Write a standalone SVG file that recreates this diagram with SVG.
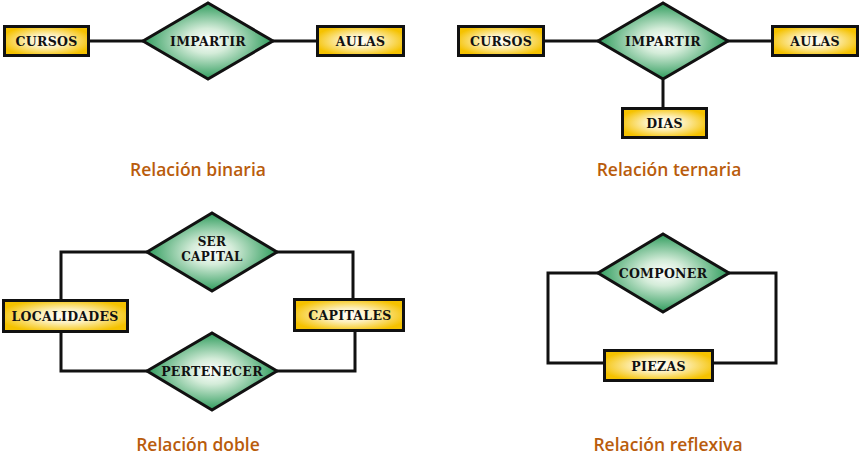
<svg xmlns="http://www.w3.org/2000/svg" width="859" height="457" viewBox="0 0 859 457">
<defs>
<radialGradient id="gBox" cx="50%" cy="50%" r="55%">
<stop offset="0" stop-color="#ffffff"/>
<stop offset="0.4" stop-color="#fdf0bd"/>
<stop offset="1" stop-color="#f5c200"/>
</radialGradient>
<radialGradient id="gDia" cx="50%" cy="50%" r="55%">
<stop offset="0" stop-color="#ffffff"/>
<stop offset="0.3" stop-color="#d4ecd9"/>
<stop offset="1" stop-color="#16904a"/>
</radialGradient>
<style>
.box{fill:url(#gBox);stroke:#111;stroke-width:3}
.dia{fill:url(#gDia);stroke:#111;stroke-width:3;stroke-linejoin:miter}
.lbl{font-family:"DejaVu Serif",serif;font-weight:bold;font-size:12.5px;fill:#111;text-anchor:middle;letter-spacing:0.3px}
.sm{font-size:12px}
.cap{font-family:"Open Sans","Noto Sans",sans-serif;font-weight:600;font-size:17.5px;fill:#b95c0c;text-anchor:middle}
.ln{fill:none;stroke:#111;stroke-width:3}
</style>
</defs>
<g id="connectors">
<line class="ln" x1="90" y1="41" x2="143" y2="41"/>
<line class="ln" x1="273" y1="41" x2="316" y2="41"/>
<line class="ln" x1="545" y1="41" x2="598" y2="41"/>
<line class="ln" x1="728" y1="41" x2="771" y2="41"/>
<line class="ln" x1="663" y1="80" x2="663" y2="107"/>
<polyline class="ln" points="147,252 61,252 61,299"/>
<polyline class="ln" points="277,252 353,252 353,298"/>
<polyline class="ln" points="147,371 61,371 61,333"/>
<polyline class="ln" points="277,371 355,371 355,332"/>
<polyline class="ln" points="598,273 548,273 548,363 603,363"/>
<polyline class="ln" points="729,273 776,273 776,363 714,363"/>
</g>
<g id="b-cursos"><rect class="box" x="4.5" y="26.5" width="84" height="29"/><text class="lbl" x="46.5" y="45.5">CURSOS</text></g>
<g id="b-impartir"><polygon class="dia" points="143,41 208,3 273,41 208,79"/><text class="lbl" x="208" y="45.5">IMPARTIR</text></g>
<g id="b-aulas"><rect class="box" x="317.5" y="26.5" width="86" height="29"/><text class="lbl" x="360.5" y="45.5">AULAS</text></g>
<g id="t-cursos"><rect class="box" x="458.5" y="26.5" width="85" height="29"/><text class="lbl" x="501" y="45.5">CURSOS</text></g>
<g id="t-impartir"><polygon class="dia" points="598,41 663,3 728,41 663,79"/><text class="lbl" x="663" y="45.5">IMPARTIR</text></g>
<g id="t-aulas"><rect class="box" x="772.5" y="26.5" width="85" height="29"/><text class="lbl" x="815" y="45.5">AULAS</text></g>
<g id="t-dias"><rect class="box" x="622.5" y="108.5" width="84" height="29"/><text class="lbl" x="664.5" y="127.5">DIAS</text></g>
<g id="d-localidades"><rect class="box" x="3.5" y="300.5" width="124" height="31"/><text class="lbl" x="65" y="320.5">LOCALIDADES</text></g>
<g id="d-capitales"><rect class="box" x="294.5" y="299.5" width="109" height="31"/><text class="lbl" x="350" y="319.5">CAPITALES</text></g>
<g id="d-ser"><polygon class="dia" points="147,252 212,213 277,252 212,291"/><text class="lbl sm" x="212" y="246">SER</text><text class="lbl sm" x="212" y="261">CAPITAL</text></g>
<g id="d-pertenecer"><polygon class="dia" points="147,371 212,333 277,371 212,410"/><text class="lbl" x="212" y="375.5">PERTENECER</text></g>
<g id="r-componer"><polygon class="dia" points="598,273 663,234 729,273 663,312"/><text class="lbl" x="663" y="277.5">COMPONER</text></g>
<g id="r-piezas"><rect class="box" x="604.5" y="350.5" width="108" height="30"/><text class="lbl" x="658.5" y="370.5">PIEZAS</text></g>
<text class="cap" x="198" y="176">Relación binaria</text>
<text class="cap" x="669" y="176">Relación ternaria</text>
<text class="cap" x="198" y="451">Relación doble</text>
<text class="cap" x="668" y="451">Relación reflexiva</text>
</svg>
